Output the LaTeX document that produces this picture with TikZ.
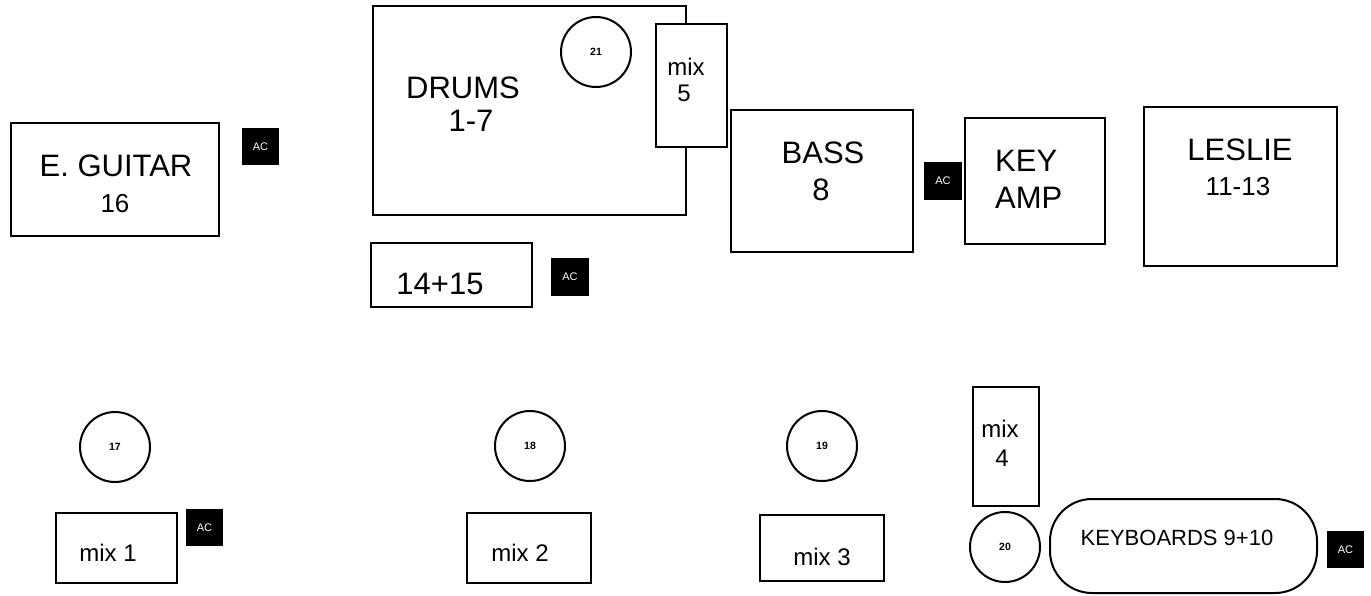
\documentclass[tikz,border=0pt]{standalone}
\usepackage{fontspec}
\setmainfont{Liberation Sans}
\begin{document}
\begin{tikzpicture}[x=1pt,y=-1pt,
  box/.style={draw, line width=2pt, fill=white, inner sep=0pt, outer sep=0pt},
  ring/.style={draw, circle, line width=2pt, fill=white, inner sep=0pt, minimum size=70pt, font=\fontsize{10.5}{12}\selectfont\bfseries},
  acbox/.style={fill=black, text=white, inner sep=0pt, minimum size=37pt, font=\fontsize{11}{12}\selectfont},
  big/.style={inner sep=0pt, font=\fontsize{31}{34}\selectfont},
  mid/.style={inner sep=0pt, font=\fontsize{26}{28}\selectfont},
  small/.style={inner sep=0pt, font=\fontsize{24}{26}\selectfont},
  keyt/.style={inner sep=0pt, font=\fontsize{22}{24}\selectfont}]
\useasboundingbox (0,0) rectangle (1371,596);
% E. GUITAR
\node[box, minimum width=208pt, minimum height=113pt] (guitar) at (115,179.5) {};
\node[big] (guitarT) at (116,166) {E. GUITAR};
\node[mid] (guitarN) at (115,204) {16};
\node[acbox] (ac1) at (260.5,146.5) {AC};
% DRUMS
\node[box, minimum width=313pt, minimum height=209pt] (drums) at (529.5,110.5) {};
\node[big] (drumsT) at (463,88) {DRUMS};
\node[big] (drumsN) at (471,121) {1-7};
\node[ring] (c21) at (596,52) {21};
\node[box, minimum width=71pt, minimum height=123pt] (mix5) at (691.5,85.5) {};
\node[small] (mix5T) at (686,67) {mix};
\node[small] (mix5N) at (684,93) {5};
% 14+15
\node[box, minimum width=161pt, minimum height=64pt] (p1415) at (451.5,275) {};
\node[big] (p1415T) at (440,284) {14+15};
\node[acbox, minimum size=38pt] (ac2) at (570,277) {AC};
% BASS
\node[box, minimum width=182pt, minimum height=142pt] (bass) at (822,181) {};
\node[big] (bassT) at (823,153) {BASS};
\node[big] (bassN) at (821,190) {8};
\node[acbox, minimum size=38pt] (ac3) at (943,181) {AC};
% KEY AMP
\node[box, minimum width=140pt, minimum height=126pt] (keyamp) at (1035,181) {};
\node[big, anchor=west] (keyT) at (995,161) {KEY};
\node[big, anchor=west] (ampT) at (995,198) {AMP};
% LESLIE
\node[box, minimum width=193pt, minimum height=159pt] (leslie) at (1240.5,186.5) {};
\node[big] (leslieT) at (1240,150) {LESLIE};
\node[mid] (leslieN) at (1238,187) {11-13};
% bottom row
\node[ring] (c17) at (115,447) {17};
\node[box, minimum width=121pt, minimum height=70pt] (mix1) at (116.5,548) {};
\node[small] (mix1T) at (108,553) {mix 1};
\node[acbox] (ac4) at (204.5,527.5) {AC};
\node[ring] (c18) at (530,446) {18};
\node[box, minimum width=124pt, minimum height=70pt] (mix2) at (529,548) {};
\node[small] (mix2T) at (520,553) {mix 2};
\node[ring] (c19) at (822,446) {19};
\node[box, minimum width=124pt, minimum height=66pt] (mix3) at (822,548) {};
\node[small] (mix3T) at (822,557) {mix 3};
\node[box, minimum width=66pt, minimum height=119pt] (mix4) at (1006,446.5) {};
\node[small] (mix4T) at (1000,429) {mix};
\node[small] (mix4N) at (1002,458) {4};
\node[ring] (c20) at (1005,547) {20};
\node[box, rounded corners=42pt, minimum width=267pt, minimum height=94pt] (keys) at (1183.5,546) {};
\node[keyt] (keysT) at (1177,538) {KEYBOARDS 9+10};
\node[acbox] (ac5) at (1345.5,549.5) {AC};
\end{tikzpicture}
\end{document}
